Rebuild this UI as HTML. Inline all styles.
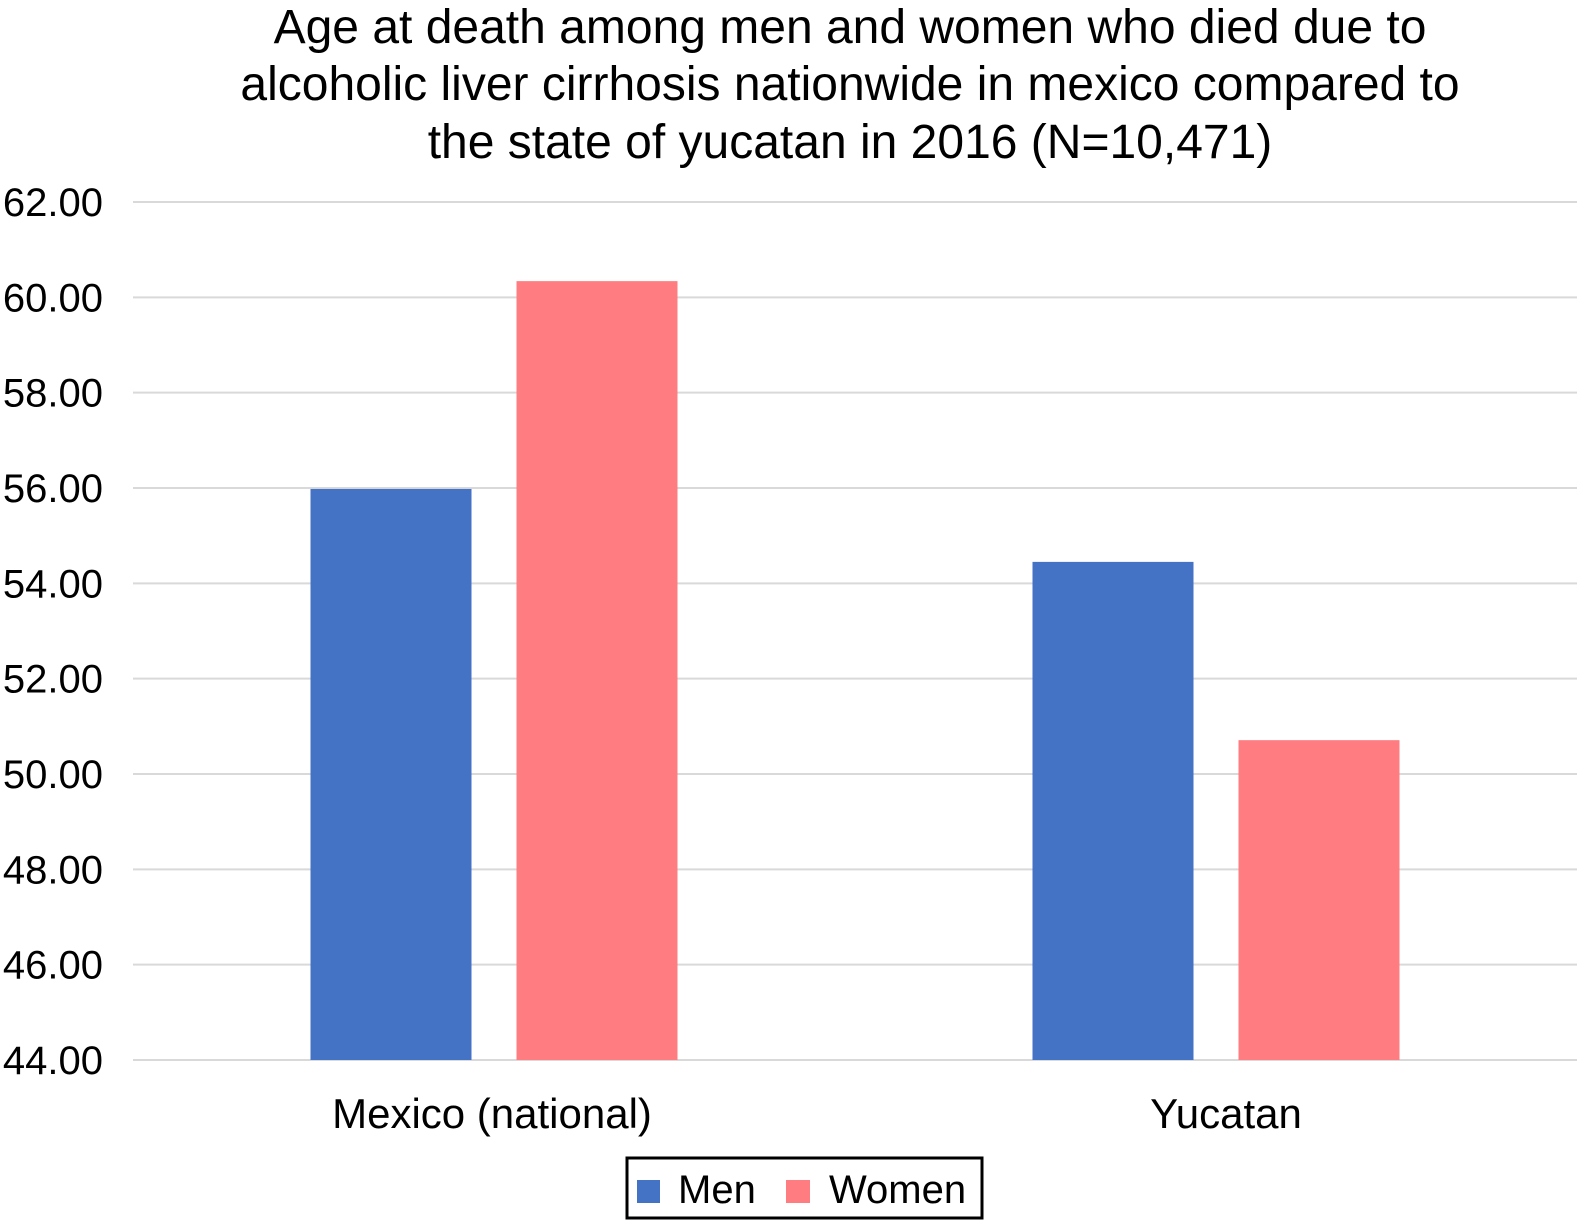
<!DOCTYPE html>
<html><head><meta charset="utf-8"><style>
html,body{margin:0;padding:0;background:#fff;}
svg{display:block;font-family:"Liberation Sans",Arial,sans-serif;}
</style></head><body>
<svg id="chart" width="1585" height="1224" viewBox="0 0 1585 1224" xmlns="http://www.w3.org/2000/svg">
<g font-size="48" text-anchor="middle" fill="#000">
<text x="850" y="43">Age at death among men and women who died due to</text>
<text x="850" y="100">alcoholic liver cirrhosis nationwide in mexico compared to</text>
<text x="850" y="158">the state of yucatan in 2016 (N=10,471)</text>
</g>
<g id="grid"></g>
<g id="yticks"></g>
<g id="bars"></g>
<g id="xlabels"></g>
<g>
<rect x="627" y="1158" width="355" height="60" fill="#fff" stroke="#000" stroke-width="3"/>
<rect x="637" y="1180" width="23" height="23" fill="#4472C4"/>
<text x="678" y="1203" font-size="40">Men</text>
<rect x="786" y="1180" width="24" height="23" fill="#FF7C80"/>
<text x="829" y="1203" font-size="40">Women</text>
</g>
</svg>
<script>
const categories = ["Mexico (national)", "Yucatan"];
const menValues = [55.98, 54.45];
const womenValues = [60.34, 50.71];
const yTicks = [44, 46, 48, 50, 52, 54, 56, 58, 60, 62];
const tickLabels = ["44.00","46.00","48.00","50.00","52.00","54.00","56.00","58.00","60.00","62.00"];

const NS = "http://www.w3.org/2000/svg";
const plotL = 133, plotR = 1577, yMin = 44, yMax = 62, pxTop = 202, pxBot = 1060;
function y(v){ return pxBot - (v - yMin) / (yMax - yMin) * (pxBot - pxTop); }
const catW = (plotR - plotL) / categories.length;
function xc(i){ return plotL + catW * (i + 0.5); }
const barW = 161, gap = 45;

const grid = document.getElementById('grid');
const yt = document.getElementById('yticks');
yTicks.forEach((t, i) => {
  const l = document.createElementNS(NS, 'line');
  
  
  l.setAttribute('x1', plotL); l.setAttribute('x2', plotR);
  l.setAttribute('y1', y(t)); l.setAttribute('y2', y(t));
  l.setAttribute('stroke', '#d9d9d9'); l.setAttribute('stroke-width', '2');
  grid.appendChild(l);
  const tx = document.createElementNS(NS, 'text');
  
  
  tx.setAttribute('x', 103); tx.setAttribute('y', y(t) + 14);
  tx.setAttribute('text-anchor', 'end'); tx.setAttribute('font-size', '40');
  tx.textContent = tickLabels[i];
  yt.appendChild(tx);
});

const bars = document.getElementById('bars');
const xl = document.getElementById('xlabels');
categories.forEach((c, i) => {
  const cx = xc(i);
  [[menValues[i], '#4472C4', 'bar-men', cx - gap/2 - barW], [womenValues[i], '#FF7C80', 'bar-women', cx + gap/2]].forEach(s => {
    const r = document.createElementNS(NS, 'rect');
    
    
    r.setAttribute('x', s[3]); r.setAttribute('width', barW);
    r.setAttribute('y', y(s[0])); r.setAttribute('height', y(yMin) - y(s[0]));
    r.setAttribute('fill', s[1]);
    bars.appendChild(r);
  });
  const t = document.createElementNS(NS, 'text');
  
  
  t.setAttribute('x', cx + (i === 1 ? 10 : -2)); t.setAttribute('y', 1128);
  t.setAttribute('text-anchor', 'middle'); t.setAttribute('font-size', '42');
  t.textContent = c;
  xl.appendChild(t);
});
</script>
</body></html>
